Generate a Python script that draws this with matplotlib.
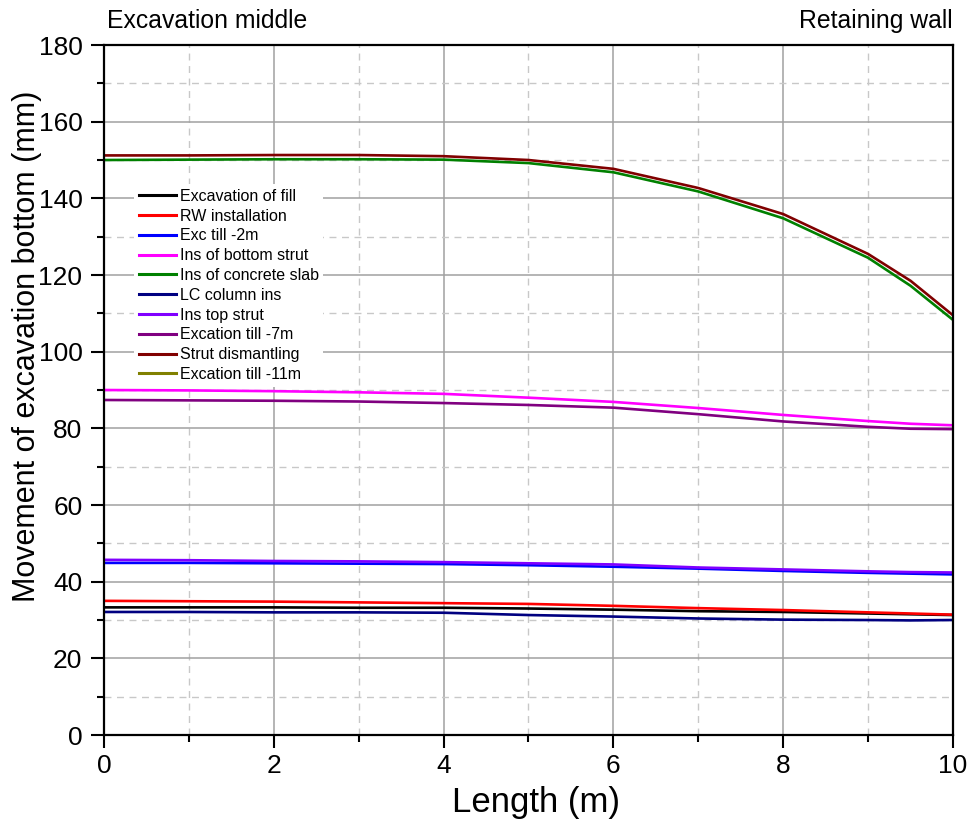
import numpy as np
import matplotlib
matplotlib.use('Agg')
import matplotlib.pyplot as plt
from matplotlib.ticker import MultipleLocator

plt.rcParams['font.family'] = ['Liberation Sans', 'DejaVu Sans']

# Data
length = [0, 1, 2, 3, 4, 5, 6, 7, 8, 9, 9.5, 10]

exc_fill     = [33.3, 33.3, 33.3, 33.2, 33.2, 33.0, 32.7, 32.3, 32.1, 31.7, 31.5, 31.3]
rw_install   = [35.0, 34.9, 34.8, 34.6, 34.4, 34.2, 33.7, 33.1, 32.6, 32.0, 31.7, 31.4]
exc_2m       = [44.9, 44.9, 44.8, 44.7, 44.6, 44.3, 43.9, 43.4, 42.8, 42.3, 42.1, 41.9]
bottom_strut = [90.0, 89.9, 89.7, 89.4, 89.0, 88.0, 86.9, 85.3, 83.5, 81.9, 81.2, 80.8]
conc_slab    = [150.0, 150.1, 150.2, 150.2, 150.1, 149.2, 146.8, 141.8, 134.8, 124.5, 117.2, 108.3]
lc_column    = [32.1, 32.1, 32.0, 32.0, 31.9, 31.3, 30.9, 30.4, 30.1, 30.0, 29.9, 30.0]
top_strut    = [45.7, 45.6, 45.4, 45.3, 45.1, 44.8, 44.5, 43.7, 43.2, 42.7, 42.5, 42.4]
exc_7m       = [87.4, 87.3, 87.2, 87.0, 86.6, 86.1, 85.4, 83.7, 81.8, 80.4, 79.9, 79.8]
strut_dism   = [151.2, 151.2, 151.3, 151.3, 151.0, 150.0, 147.7, 142.7, 135.9, 125.5, 118.5, 109.5]
exc_11m      = [0, 0, 0, 0, 0, 0, 0, 0, 0, 0, 0, 0]

labels = ['Excavation of fill', 'RW installation', 'Exc till -2m', 'Ins of bottom strut',
          'Ins of concrete slab', 'LC column ins', 'Ins top strut', 'Excation till -7m',
          'Strut dismantling', 'Excation till -11m']
series = [exc_fill, rw_install, exc_2m, bottom_strut, conc_slab,
          lc_column, top_strut, exc_7m, strut_dism, exc_11m]
colors = ['#000000', '#ff0000', '#0000ff', '#ff00ff', '#008000',
          '#000080', '#8000ff', '#800080', '#800000', '#808000']

fig = plt.figure(figsize=(9.74, 8.23), dpi=100)
ax = fig.add_axes([0.1068, 0.1069, 0.8716, 0.8384])

for y, lab, c in zip(series, labels, colors):
    ax.plot(length, y, color=c, lw=1.9, label=lab)

ax.set_xlim(0, 10)
ax.set_ylim(0, 180)
ax.xaxis.set_major_locator(MultipleLocator(2))
ax.xaxis.set_minor_locator(MultipleLocator(1))
ax.yaxis.set_major_locator(MultipleLocator(20))
ax.yaxis.set_minor_locator(MultipleLocator(10))

ax.grid(which='major', color='#a0a0a0', lw=1.1, ls='-')
ax.grid(which='minor', color='#c8c8c8', lw=1.0, ls=(0, (5, 4)))
ax.set_axisbelow(True)

for s in ax.spines.values():
    s.set_linewidth(1.6)

ax.tick_params(which='major', direction='out', length=9.5, width=1.5,
               labelsize=19, pad=6, top=False, right=False)
ax.tick_params(which='minor', direction='out', length=5, width=1.5,
               top=False, right=False)
ax.tick_params(axis='x', which='major', pad=4)

ax.set_xlabel('Length (m)', fontsize=25, labelpad=6)
ax.xaxis.label.set_x(0.509)
ax.set_ylabel('Movement of excavation bottom (mm)', fontsize=22)
ax.yaxis.set_label_coords(-0.073, 0.564)

leg = ax.legend(loc='upper left', bbox_to_anchor=(0.026, 0.81), fontsize=11.5,
                frameon=True, facecolor='white', edgecolor='none', framealpha=1,
                fancybox=False, handlelength=2.3, handletextpad=0.25,
                labelspacing=0.3, borderpad=0.3)
for h in leg.get_lines():
    h.set_linewidth(2.2)

fig.text(0.110, 0.975, 'Excavation middle', fontsize=17.8, ha='left', va='center')
fig.text(0.978, 0.975, 'Retaining wall', fontsize=17.8, ha='right', va='center')

fig.savefig('out.png', dpi=100, facecolor='white')
